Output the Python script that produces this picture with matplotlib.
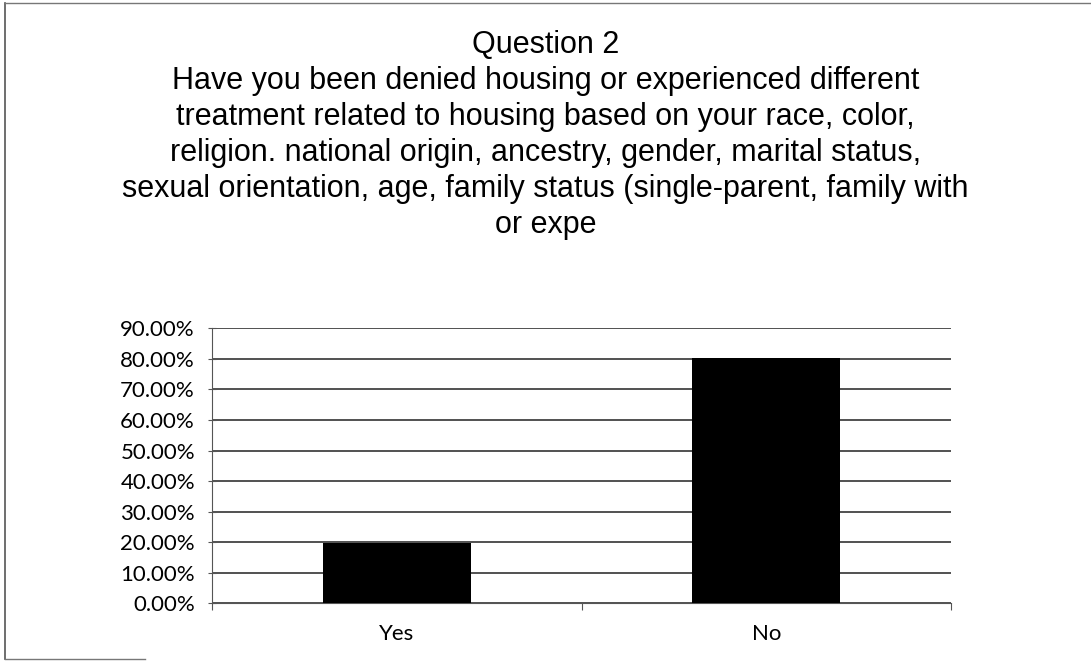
import matplotlib
matplotlib.use('Agg')
from matplotlib import pyplot as plt
from matplotlib.lines import Line2D
from matplotlib.ticker import PercentFormatter

categories = ['Yes', 'No']
shares = [0.198, 0.802]
yticks = [0.0, 0.1, 0.2, 0.3, 0.4, 0.5, 0.6, 0.7, 0.8, 0.9]

title_lines = [
    'Question 2',
    'Have you been denied housing or experienced different',
    'treatment related to housing based on your race, color,',
    'religion. national origin, ancestry, gender, marital status,',
    'sexual orientation, age, family status (single-parent, family with',
    'or expe',
]

fig = plt.figure(figsize=(10.91, 6.61), dpi=100)
ax = fig.add_axes([0.194, 0.0873, 0.678, 0.416])

# bars
x = list(range(len(categories)))
ax.bar(x, shares, width=0.4, color='black', zorder=3)

ax.set_xlim(-0.5, 1.5)
ax.set_ylim(0, 0.9)
ax.set_yticks(yticks)
ax.yaxis.set_major_formatter(PercentFormatter(1.0, decimals=2))
ax.yaxis.grid(True, color='#222222', linewidth=1.1, zorder=0)
ax.set_axisbelow(True)

# category boundaries as x ticks
ax.set_xticks([-0.5, 0.5, 1.5])
ax.set_xticklabels([])
ax.tick_params(axis='x', direction='out', length=5, color='#555555')
ax.tick_params(axis='y', direction='inout', length=6, color='#555555',
               labelsize=16, pad=9)
for lbl in ax.get_yticklabels():
    lbl.set_family('Lato')
for i, c in enumerate(categories):
    ax.text(i, -0.1, c, ha='center', va='center', fontsize=16,
            family='Lato', transform=ax.transData)

for side in ['top', 'right']:
    ax.spines[side].set_visible(False)
ax.spines['left'].set_color('#555555')
ax.spines['bottom'].set_color('#555555')

# title
for i, line in enumerate(title_lines):
    fig.text(0.5, 1 - (45 + 36 * i) / 661, line, ha='center', va='center',
             fontsize=22, family='Liberation Sans')

# scanned frame (left and top edges, short piece at bottom)
fig.add_artist(Line2D([5 / 1091, 5 / 1091], [1 - 659 / 661, 1 - 3 / 661],
                      color='#555555', linewidth=1.2))
fig.add_artist(Line2D([5 / 1091, 1.0], [1 - 3 / 661, 1 - 3 / 661],
                      color='#777777', linewidth=1.0))
fig.add_artist(Line2D([5 / 1091, 145 / 1091], [1 - 659 / 661, 1 - 659 / 661],
                      color='#777777', linewidth=1.0))

plt.savefig('out.png', dpi=100)
